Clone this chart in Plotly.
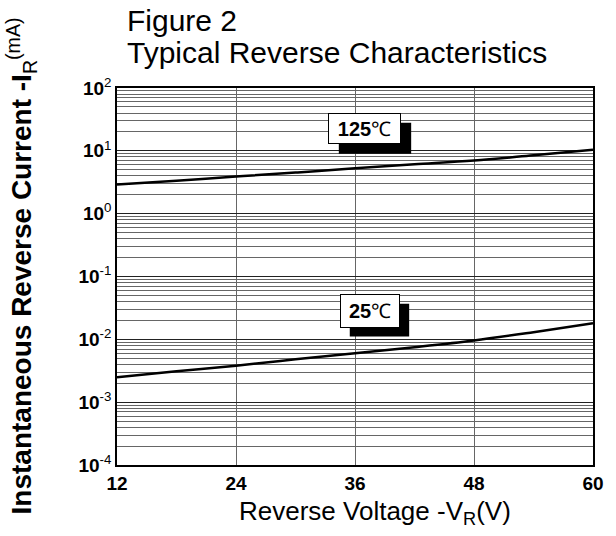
import plotly.graph_objects as go

voltage = [12, 18, 24, 30, 36, 42, 48, 54, 60]
current_125C = [2.9, 3.35, 3.9, 4.5, 5.3, 6.1, 7.0, 8.5, 10.4]
current_25C = [0.0025, 0.0031, 0.0038, 0.0048, 0.0060, 0.0075, 0.0096, 0.0130, 0.0180]

x_ticks = [12, 24, 36, 48, 60]
y_tick_vals = [1e-4, 1e-3, 1e-2, 1e-1, 1, 10, 100]
y_tick_exps = ["-4", "-3", "-2", "-1", "0", "1", "2"]

FONT = "Arial, Liberation Sans, sans-serif"

fig = go.Figure()
fig.add_trace(go.Scatter(x=voltage, y=current_125C, mode="lines",
                         line=dict(color="black", width=2.5), line_shape="spline",
                         showlegend=False))
fig.add_trace(go.Scatter(x=voltage, y=current_25C, mode="lines",
                         line=dict(color="black", width=2.5), line_shape="spline",
                         showlegend=False))

fig.update_layout(
    width=616, height=536,
    margin=dict(l=117, r=19, t=88, b=71),
    paper_bgcolor="white", plot_bgcolor="white",
    font=dict(family=FONT, color="black"),
)
fig.update_xaxes(
    range=[12, 60], tickvals=x_ticks, ticktext=[f"<b>{v}</b>" for v in x_ticks],
    tickfont=dict(size=19, family=FONT), ticks="",
    showgrid=True, gridcolor="#666", gridwidth=1,
    showline=True, linecolor="black", linewidth=1.5, mirror=True,
    zeroline=False,
)
fig.update_yaxes(
    type="log", range=[-4, 2], tickvals=y_tick_vals,
    ticktext=[f"<b>10</b><sup>{e}</sup>" for e in y_tick_exps],
    tickfont=dict(size=19, family=FONT), ticks="",
    showgrid=True, gridcolor="#222", gridwidth=1,
    minor=dict(dtick="D1", showgrid=True, gridcolor="#666", gridwidth=1, ticks=""),
    showline=True, linecolor="black", linewidth=1.5, mirror=True,
    zeroline=False,
)

# Titles
fig.add_annotation(text="Figure 2", xref="paper", yref="paper", x=0.016, y=1.179,
                   xanchor="left", yanchor="middle", showarrow=False,
                   font=dict(size=30, family=FONT))
fig.add_annotation(text="Typical Reverse Characteristics", xref="paper", yref="paper",
                   x=0.016, y=1.093, xanchor="left", yanchor="middle", showarrow=False,
                   font=dict(size=30, family=FONT))
fig.add_annotation(text="Reverse Voltage -V<sub>R</sub>(V)", xref="paper", yref="paper",
                   x=0.541, y=-0.127, xanchor="center", yanchor="middle", showarrow=False,
                   font=dict(size=26, family=FONT))
fig.add_annotation(text="<b>Instantaneous Reverse Current -I</b><sub>R</sub><sup>(mA)</sup>",
                   xref="paper", yref="paper", x=-0.2006, y=0.528, textangle=-90,
                   xanchor="center", yanchor="middle", showarrow=False,
                   font=dict(size=28, family=FONT))

# Temperature labels: white boxed text with black drop shadow
labels = [("<b>125</b>℃", 0.520, 0.8925, 71, 29, (0.466, 0.618, 0.8256, 0.908)),
          ("<b>25</b>℃", 0.532, 0.408, 58, 32, (0.489, 0.6138, 0.3406, 0.4274))]
for txt, lx, ly, w, h, (sx0, sx1, sy0, sy1) in labels:
    fig.add_shape(type="rect", xref="paper", yref="paper",
                  x0=sx0, x1=sx1, y0=sy0, y1=sy1,
                  fillcolor="black", line=dict(color="black", width=0), layer="above")
    fig.add_annotation(text=txt, xref="paper", yref="paper", x=lx, y=ly,
                       xanchor="center", yanchor="middle",
                       showarrow=False, width=w, height=h, bgcolor="white",
                       bordercolor="black", borderwidth=1, borderpad=0,
                       font=dict(size=20, family=FONT, color="black"))

fig.write_html("out.html", config={"displayModeBar": False},
               post_script="document.body.style.margin='0';")
